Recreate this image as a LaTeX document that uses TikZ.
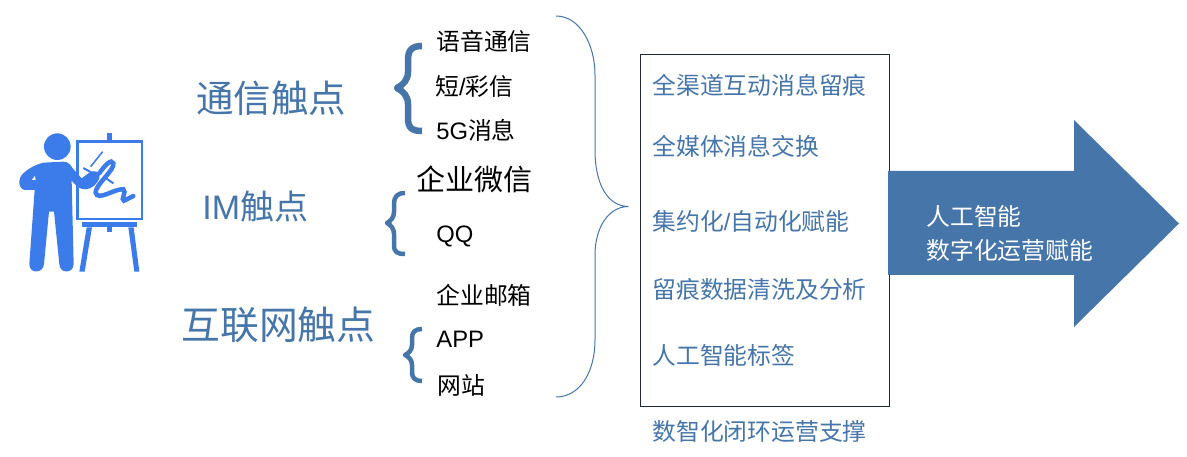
\documentclass[tikz,border=0pt]{standalone}
\usepackage{fontspec}
\setmainfont{Liberation Sans}
\newfontfamily\cjk{Noto Sans CJK SC}
\definecolor{steel}{HTML}{4575A9}
\definecolor{painter}{HTML}{3B7BEA}
\definecolor{boxline}{HTML}{1F2A38}

\begin{document}
\begin{tikzpicture}[%
    x=1pt,
    y=-1pt,
    touch/.style={anchor=base west, inner sep=0, text=steel, font=\fontsize{37.5}{37.5}\selectfont\cjk},
    channel/.style={anchor=base west, inner sep=0, text=black, font=\fontsize{23.8}{24}\selectfont\cjk},
    support/.style={anchor=base west, inner sep=0, text=steel, font=\fontsize{23.8}{24}\selectfont\cjk},
    curly/.style={draw=steel, line join=round},
    thick
  ]
  \useasboundingbox (0,0) rectangle (1187,457);

  % painter and easel
  \begin{scope}[shift={(0,110)}, x=.3333pt, y=-.3333pt]
    \fill[painter] (172,110) circle (40);
    \fill[painter] (130,158) -- (190,155) .. controls (205,155) and (212,165) .. (218,175)
      -- (245,205) -- (268,188) .. controls (285,178) and (302,185) .. (298,205)
      .. controls (292,222) and (275,238) .. (255,238) .. controls (240,238) and (228,228) .. (215,212)
      -- (221,462) .. controls (221,492) and (178,492) .. (178,462)
      -- (162,305) -- (147,305) -- (132,462) .. controls (130,492) and (87,492) .. (88,462)
      -- (104,240) -- (75,240) .. controls (55,238) and (52,205) .. (70,190)
      .. controls (85,175) and (105,165) .. (130,158) -- cycle;
    \fill[white] (95,210) -- (105,198) -- (107,210) -- cycle;
    \draw[painter, line width=2.5pt] (233,95) rectangle (426,327);
    \fill[painter] (320,68) rectangle (336,95);
    \fill[painter] (245,335) rectangle (411,352);
    \fill[painter] (320,352) rectangle (336,365);
    \fill[painter] (260,352) -- (276,352) -- (254,485) -- (238,485) -- cycle;
    \fill[painter] (385,352) -- (401,352) -- (418,485) -- (403,485) -- cycle;
    \draw[painter, line width=4.5pt, line cap=round] (298,190)
      .. controls (315,165) and (335,145) .. (340,160)
      .. controls (345,180) and (285,225) .. (287,248)
      .. controls (292,275) and (345,235) .. (370,238)
      .. controls (382,245) and (360,270) .. (372,272) -- (400,258);
    \draw[painter, line width=1.5pt] (272,170) -- (308,125);
    \draw[painter, line width=2pt] (250,174) -- (275,188);
    \draw[painter, line width=2pt] (318,205) -- (340,220);
  \end{scope}

  % touch points
  \node[touch] (telecom) at (196,113) {通信触点};
  \node[touch, font=\fontsize{34}{34}\selectfont\cjk] (im) at (202,220) {{\rmfamily IM}触点};
  \node[touch, font=\fontsize{38.8}{39}\selectfont\cjk] (internet) at (181,339) {互联网触点};

  % channels
  \node[channel] (voice) at (436,51) {语音通信};
  \node[channel] (sms) at (435,96) {短{\rmfamily /}彩信};
  \node[channel] (fiveg) at (436,140) {{\rmfamily 5G}消息};
  \node[channel, font=\fontsize{29}{29}\selectfont\cjk] (wecom) at (416,191) {企业微信};
  \node[channel] (qq) at (436,243) {{\rmfamily QQ}};
  \node[channel] (mail) at (436,305) {企业邮箱};
  \node[channel] (app) at (436,348) {{\rmfamily APP}};
  \node[channel] (web) at (437,394) {网站};

  % small braces
  \draw[curly, line width=6.5pt] (422,46) .. controls (412,46) and (408,50) .. (408,60) -- (408,72)
    .. controls (408,80) and (403,85) .. (397,88) .. controls (403,91) and (408,96) .. (408,104)
    -- (408,118) .. controls (408,128) and (412,131) .. (422,131);
  \draw[curly, line width=4.5pt] (405,193) .. controls (397,193) and (394,197) .. (394,204) -- (394,212)
    .. controls (394,217) and (391,221) .. (387,223) .. controls (391,225) and (394,229) .. (394,234)
    -- (394,245) .. controls (394,252) and (397,254) .. (405,254);
  \draw[curly, line width=4.5pt] (422,329) .. controls (415,329) and (412,332) .. (412,338) -- (412,345)
    .. controls (412,350) and (409,353) .. (405,355) .. controls (409,357) and (412,360) .. (412,365)
    -- (412,372) .. controls (412,378) and (415,381) .. (422,381);

  % large brace
  \draw[curly, line width=1pt] (556,16) .. controls (580,16) and (595,45) .. (595,75) -- (595,150)
    .. controls (595,185) and (608,206) .. (628,206.5) .. controls (608,207) and (595,228) .. (595,255)
    -- (595,340) .. controls (595,372) and (580,397) .. (556,397);

  % support box
  \node[draw=boxline, line width=1pt, inner sep=0, minimum width=249pt, minimum height=352pt, anchor=north west] (box) at (640,54) {};
  \node[support] (trace) at (652,95) {全渠道互动消息留痕};
  \node[support] (media) at (652,156) {全媒体消息交换};
  \node[support] (intensive) at (652,231) {集约化{\rmfamily /}自动化赋能};
  \node[support] (clean) at (652,299) {留痕数据清洗及分析};
  \node[support] (label) at (652,364) {人工智能标签};
  \node[support] (closed) at (652,440) {数智化闭环运营支撑};

  % big arrow
  \fill[steel] (888,171) -- (1074,171) -- (1074,120) -- (1179,223.5) -- (1074,327) -- (1074,275) -- (888,275) -- cycle;
  \node[support, text=white] (ai) at (926,226) {人工智能};
  \node[support, text=white] (digital) at (926,260) {数字化运营赋能};
\end{tikzpicture}
\end{document}
